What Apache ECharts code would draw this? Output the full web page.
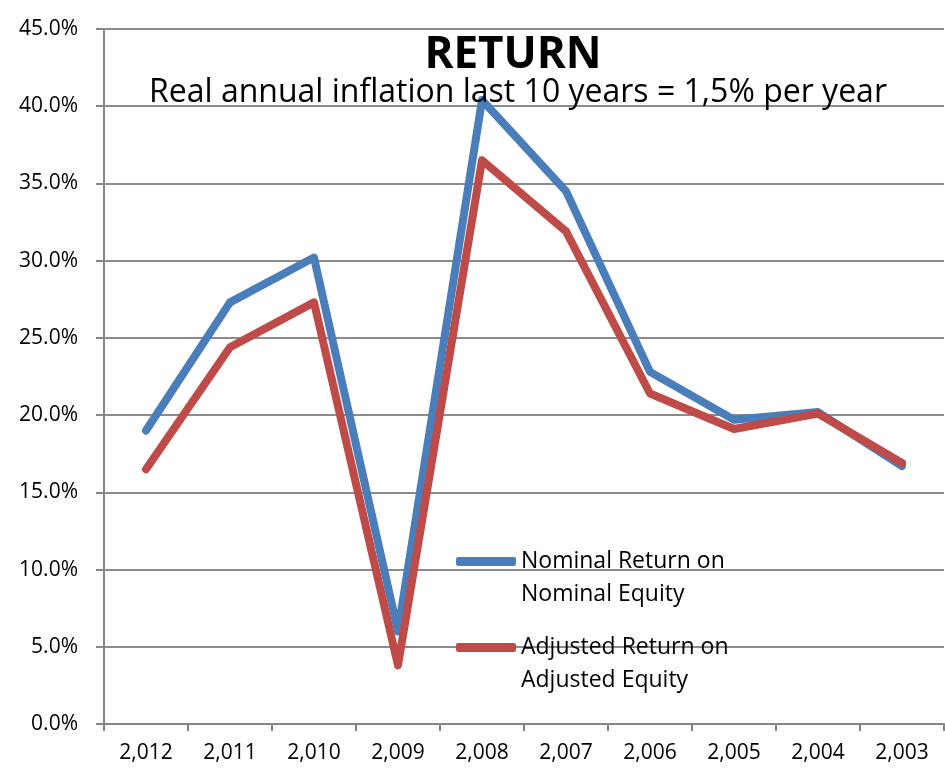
<!DOCTYPE html>
<html>
<head>
<meta charset="utf-8">
<title>RETURN</title>
<script src="https://cdn.jsdelivr.net/npm/echarts@6/dist/echarts.min.js"></script>
<style>
  html, body { margin: 0; padding: 0; background: #fff; }
  #chart { width: 945px; height: 774px; }
</style>
</head>
<body>
<div id="chart"></div>
<script>
// years, newest first (as in the source sheet)
const years = ['2,012', '2,011', '2,010', '2,009', '2,008', '2,007', '2,006', '2,005', '2,004', '2,003']
// returns in %
const nominalReturn = [19.0, 27.3, 30.2, 6.0, 40.4, 34.5, 22.8, 19.7, 20.2, 16.7]
const adjustedReturn = [16.5, 24.4, 27.3, 3.8, 36.5, 31.9, 21.4, 19.1, 20.1, 16.9]

const nominalName = 'Nominal Return on\nNominal Equity'
const adjustedName = 'Adjusted Return on\nAdjusted Equity'

const font = 'Open Sans'
const chart = echarts.init(document.getElementById('chart'))

// one legend per series, placed by hand like the excel one
function legendFor (name, top) {
  return {
    data: [name],
    left: 451,
    top: top,
    icon: 'roundRect',
    itemWidth: 60,
    itemHeight: 9,
    // blank first line so the icon sits next to the first text line
    formatter: (n) => '\n' + n,
    textStyle: { fontFamily: font, fontSize: 23, color: '#000', lineHeight: 33 }
  }
}

chart.setOption({
  animation: false,
  title: [
    {
      text: 'RETURN',
      left: 508,
      top: 28,
      textAlign: 'center',
      textStyle: { fontFamily: font, fontSize: 44, fontWeight: 'bold', color: '#000' }
    },
    {
      text: 'Real annual inflation last 10 years = 1,5% per year',
      left: 513,
      top: 72,
      textAlign: 'center',
      textStyle: { fontFamily: font, fontSize: 32, fontWeight: 'normal', color: '#000' }
    }
  ],
  legend: [
    legendFor(nominalName, 507),
    legendFor(adjustedName, 593)
  ],
  grid: {
    left: 104,
    right: 1,
    top: 29,
    bottom: 50
  },
  xAxis: {
    type: 'category',
    data: years,
    boundaryGap: true,
    axisLine: { lineStyle: { color: '#868686', width: 2 } },
    axisTick: { show: true, length: 7, lineStyle: { color: '#868686', width: 2 } },
    axisLabel: { fontFamily: font, fontSize: 21, color: '#000', margin: 19 }
  },
  yAxis: {
    type: 'value',
    min: 0,
    max: 45,
    interval: 5,
    axisLine: { show: true, lineStyle: { color: '#868686', width: 2 } },
    axisTick: { show: true, length: 8, lineStyle: { color: '#868686', width: 2 } },
    axisLabel: {
      fontFamily: font,
      fontSize: 21,
      color: '#000',
      margin: 26,
      formatter: (v) => v.toFixed(1) + '%'
    },
    splitLine: { lineStyle: { color: '#8c8c8c', width: 2 } }
  },
  series: [
    {
      name: nominalName,
      type: 'line',
      data: nominalReturn,
      showSymbol: false,
      symbol: 'none',
      color: '#4A7EBB',
      lineStyle: { width: 8, cap: 'round', join: 'round', color: '#4A7EBB' }
    },
    {
      name: adjustedName,
      type: 'line',
      data: adjustedReturn,
      showSymbol: false,
      symbol: 'none',
      color: '#BE4B48',
      lineStyle: { width: 8, cap: 'round', join: 'round', color: '#BE4B48' }
    }
  ]
})
</script>
</body>
</html>
